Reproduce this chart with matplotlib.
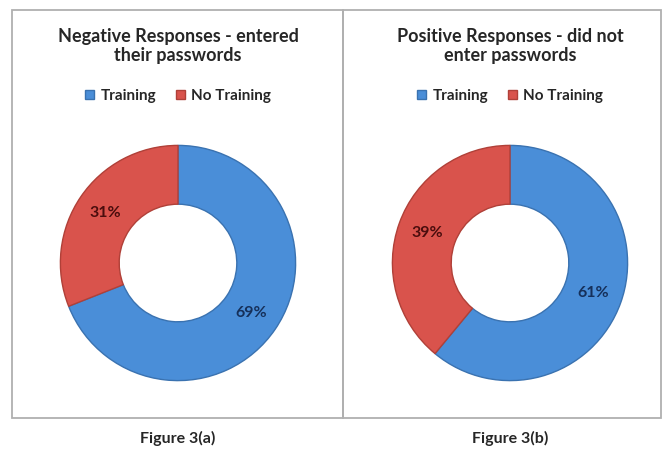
import matplotlib
matplotlib.use('Agg')
import matplotlib.pyplot as plt
from matplotlib.patches import Rectangle

plt.rcParams['font.family'] = ['Lato', 'DejaVu Sans']

## data
labels = ['Training', 'No Training']
negative = [69, 31]
positive = [61, 39]
titles = ['Negative Responses - entered\ntheir passwords',
          'Positive Responses - did not\nenter passwords']
captions = ['Figure 3(a)', 'Figure 3(b)']

colors = ['#4a8ed8', '#d9534c']
edges = ['#3a72b0', '#b04038']
pct_colors = ['#16305a', '#4a0d0d']

W, H = 665, 451
fig = plt.figure(figsize=(W / 100, H / 100), dpi=100)
fig.patch.set_facecolor('white')

# panel boxes (pixels)
panels = [(12, 343), (343, 661)]
top, bottom = 10, 418
for x0, x1 in panels:
    fig.patches.append(Rectangle((x0 / W, 1 - bottom / H), (x1 - x0) / W, (bottom - top) / H,
                                 transform=fig.transFigure, fill=False,
                                 edgecolor='#b0b0b0', linewidth=1.3))

centers = [(178, 263), (510, 263)]
rad = 120


def donut(cx, cy, values, title, caption):
    ax = fig.add_axes([(cx - rad) / W, 1 - (cy + rad) / H, 2 * rad / W, 2 * rad / H])
    wedges, texts, autotexts = ax.pie(values, colors=colors, startangle=90, counterclock=False,
                                      autopct='%d%%', pctdistance=0.75, radius=0.98,
                                      wedgeprops=dict(width=0.49, linewidth=1.0),
                                      textprops=dict(fontsize=11.5, fontweight='bold'))
    for w, e in zip(wedges, edges):
        w.set_edgecolor(e)
    for t, c in zip(autotexts, pct_colors):
        t.set_color(c)
    ax.set_xlim(-1, 1)
    ax.set_ylim(-1, 1)
    ax.set_aspect('equal')
    ax.axis('off')

    fig.text(cx / W, 1 - 46 / H, title, ha='center', va='center', fontsize=13,
             fontweight='bold', color='#262626', linespacing=1.2)
    fig.legend(wedges, labels, loc='center', bbox_to_anchor=(cx / W, 1 - 96 / H),
               ncol=2, frameon=False, handlelength=0.6, handleheight=0.6,
               handletextpad=0.4, columnspacing=1.3, labelcolor='#262626',
               prop=dict(weight='bold', size=11))
    fig.text(cx / W, 1 - 438 / H, caption, ha='center', va='center', fontsize=11.5,
             fontweight='bold', color='#262626')


donut(centers[0][0], centers[0][1], negative, titles[0], captions[0])
donut(centers[1][0], centers[1][1], positive, titles[1], captions[1])

plt.savefig('out.png', dpi=100, facecolor='white')
